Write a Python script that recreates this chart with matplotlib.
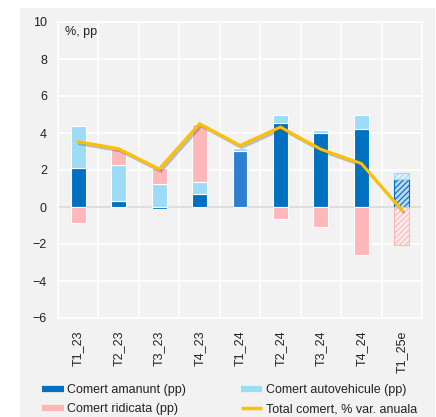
import matplotlib.pyplot as plt
import matplotlib.patheffects as pe
from matplotlib.lines import Line2D
from matplotlib.patches import Rectangle
import numpy as np

plt.rcParams['font.family'] = ['Liberation Sans', 'DejaVu Sans']
plt.rcParams['hatch.linewidth'] = 0.8

# contributions to annual change in trade (pp)
categories = ['T1_23', 'T2_23', 'T3_23', 'T4_23', 'T1_24', 'T2_24', 'T3_24', 'T4_24', 'T1_25e']
amanunt = [2.12, 0.3, -0.1, 0.72, 3.05, 4.55, 4.0, 4.23, 1.49]
autovehicule = [2.25, 1.95, 1.27, 0.65, 0.12, 0.43, 0.18, 0.72, 0.37]
ridicata = [-0.85, 0.9, 0.85, 3.1, 0.0, -0.65, -1.1, -2.58, -2.04]
total = [3.53, 3.15, 2.05, 4.5, 3.33, 4.32, 3.12, 2.35, -0.16]

c_am = '#0070c0'
c_au = '#9ddcf7'
c_ri = '#ffb7ba'
c_tot = '#ffc000'
light = {c_am: '#bcd6ee', c_au: '#dff2fb', c_ri: '#fdecec'}

fig = plt.figure(figsize=(4.36, 4.17), dpi=100)
fig.patch.set_facecolor('white')
fig.patches.append(Rectangle((20 / 436, 0), 415 / 436, 1 - 8 / 417, transform=fig.transFigure,
                             facecolor='#f2f2f2', edgecolor='none', zorder=-5))
ax = fig.add_axes([58 / 436, 1 - 318 / 417, 364 / 436, 296 / 417])
ax.set_facecolor('#f2f2f2')

x = np.arange(len(categories))
w = 0.37
pos_b = np.zeros(len(x))
neg_b = np.zeros(len(x))
for series, col in [(amanunt, c_am), (autovehicule, c_au), (ridicata, c_ri)]:
    for i, v in enumerate(series):
        if v == 0:
            continue
        b = pos_b[i] if v > 0 else neg_b[i]
        fc = col
        if col == c_am and categories[i] == 'T1_24':
            fc = '#2e7fd0'
        if categories[i] == 'T1_25e':
            ax.bar(x[i], v, w, bottom=b, facecolor=light[col], edgecolor=col,
                   hatch='//////', linewidth=0.8, zorder=2)
        else:
            ax.bar(x[i], v, w, bottom=b, color=fc, edgecolor='white', linewidth=0.8, zorder=2)
        if v > 0:
            pos_b[i] += v
        else:
            neg_b[i] += v

ax.plot(x, total, color=c_tot, lw=2.2, zorder=4, solid_joinstyle='miter',
        path_effects=[pe.SimpleLineShadow(offset=(1.2, -1.5), shadow_color='#555555', alpha=0.35),
                      pe.Normal()])
ax.axhline(0, color='#d9d9d9', lw=1.2, zorder=1)

ax.set_xlim(-0.5, len(categories) - 0.5)
ax.set_ylim(-6, 10)
ax.set_yticks(range(-6, 11, 2))
ax.set_xticks(x)
ax.set_xticklabels(categories, rotation=90)
ax.set_xticks(np.arange(-0.5, len(categories)), minor=True)
ax.grid(True, which='minor', axis='x', color='white', lw=1.2, zorder=0)
ax.grid(True, which='major', axis='y', color='white', lw=1.2, zorder=0)
ax.tick_params(axis='both', which='both', length=0, labelsize=9, colors='#222222')
ax.tick_params(axis='y', pad=8)
ax.tick_params(axis='x', pad=9)
for s in ax.spines.values():
    s.set_color('white')
    s.set_linewidth(1.2)
ax.set_axisbelow(True)
ax.text(0.02, 0.985, '%, pp', transform=ax.transAxes, fontsize=9, va='top', color='#222222')

handles = [Line2D([], [], color=c_am, lw=4.5, solid_capstyle='butt'),
           Line2D([], [], color=c_ri, lw=4.5, solid_capstyle='butt'),
           Line2D([], [], color=c_au, lw=4.5, solid_capstyle='butt'),
           Line2D([], [], color=c_tot, lw=2.5, solid_capstyle='butt')]
labels = ['Comert amanunt (pp)', 'Comert ridicata (pp)', 'Comert autovehicule (pp)',
          'Total comert, % var. anuala']
fig.legend(handles, labels, ncol=2, loc='upper left', bbox_to_anchor=(31 / 436, 1 - 373 / 417),
           frameon=False, fontsize=9, handlelength=1.7, handletextpad=0.3,
           columnspacing=4.4, labelspacing=0.55, labelcolor='#222222')

fig.savefig('out.png', dpi=100, facecolor='white')
